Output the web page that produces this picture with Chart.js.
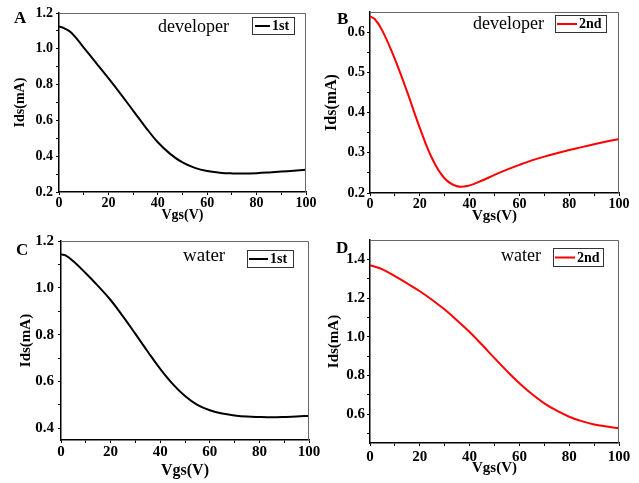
<!DOCTYPE html>
<html>
<head>
<meta charset="utf-8">
<script src="https://cdn.jsdelivr.net/npm/chart.js@4.4.0/dist/chart.umd.min.js"></script>
<style>
  body { margin: 0; background: #fff; }
  canvas { position: absolute; }
</style>
</head>
<body>
<canvas id="cA" width="320" height="225" style="left:0;top:0"></canvas>
<canvas id="cB" width="319" height="225" style="left:320px;top:0"></canvas>
<canvas id="cC" width="320" height="258" style="left:0;top:225px"></canvas>
<canvas id="cD" width="319" height="258" style="left:320px;top:225px"></canvas>
<script>
// Vgs sweep (V), shared by all four panels
const vgs = [0, 2, 5, 10, 15, 20, 25, 30, 35, 40, 45, 50, 55, 60, 65, 70, 75, 80, 85, 90, 95, 100];

// Ids (mA)
const idsDev1 = [1.125, 1.115, 1.09, 1.007, 0.922, 0.836, 0.747, 0.655, 0.563, 0.478, 0.413, 0.365, 0.335, 0.317, 0.308, 0.304, 0.303, 0.305, 0.309, 0.314, 0.319, 0.324];
const idsDev2 = [0.639, 0.632, 0.603, 0.533, 0.450, 0.362, 0.285, 0.236, 0.217, 0.219, 0.231, 0.245, 0.258, 0.270, 0.281, 0.2905, 0.299, 0.307, 0.314, 0.321, 0.328, 0.334];
const idsWat1 = [1.143, 1.138, 1.113, 1.062, 1.007, 0.948, 0.878, 0.803, 0.727, 0.654, 0.590, 0.538, 0.500, 0.477, 0.463, 0.455, 0.450, 0.448, 0.447, 0.448, 0.450, 0.454];
const idsWat2 = [1.369, 1.362, 1.348, 1.313, 1.275, 1.235, 1.190, 1.140, 1.084, 1.024, 0.958, 0.889, 0.822, 0.759, 0.703, 0.655, 0.617, 0.586, 0.563, 0.546, 0.535, 0.526];

// tick marks
const xMajor = [0, 20, 40, 60, 80, 100];
const xMinor = [10, 30, 50, 70, 90];
const yMajorA = [0.2, 0.4, 0.6, 0.8, 1.0, 1.2];
const yMinorA = [0.3, 0.5, 0.7, 0.9, 1.1];
const yMajorB = [0.2, 0.3, 0.4, 0.5, 0.6];
const yMinorB = [0.25, 0.35, 0.45, 0.55];
const yMajorC = [0.4, 0.6, 0.8, 1.0, 1.2];
const yMinorC = [0.5, 0.7, 0.9, 1.1];
const yMajorD = [0.6, 0.8, 1.0, 1.2, 1.4];
const yMinorD = [0.5, 0.7, 0.9, 1.1, 1.3];

const SERIF = '"Liberation Serif", "Times New Roman", serif';

// frame (top/right), panel letter, note text and inset legend
const decor = {
  id: 'decor',
  afterDraw(chart, args, o) {
    const ctx = chart.ctx;
    const a = chart.chartArea;
    ctx.save();
    ctx.strokeStyle = '#666';
    ctx.lineWidth = 1;
    ctx.beginPath();
    ctx.moveTo(a.left, a.top + 0.5);
    ctx.lineTo(a.right - 0.5, a.top + 0.5);
    ctx.lineTo(a.right - 0.5, a.bottom);
    ctx.stroke();

    ctx.fillStyle = '#000';
    ctx.textBaseline = 'alphabetic';
    ctx.textAlign = 'left';
    ctx.font = 'bold 17px ' + SERIF;
    ctx.fillText(o.letter, o.letterXY[0], o.letterXY[1]);

    ctx.font = o.noteFont + 'px ' + SERIF;
    ctx.fillText(o.note, o.noteXY[0], o.noteXY[1]);

    const [bx, by, bw, bh] = o.box;
    ctx.strokeStyle = '#333';
    ctx.lineWidth = 1;
    ctx.strokeRect(bx + 0.5, by + 0.5, bw, bh);
    const ds = chart.data.datasets[0];
    ctx.strokeStyle = ds.borderColor;
    ctx.lineWidth = 2;
    ctx.beginPath();
    ctx.moveTo(o.lineX[0], by + bh / 2 + 0.5);
    ctx.lineTo(o.lineX[1], by + bh / 2 + 0.5);
    ctx.stroke();
    ctx.font = 'bold 14px ' + SERIF;
    ctx.textBaseline = 'middle';
    ctx.fillText(ds.label, o.lineX[1] + 2, by + bh / 2 + 1);
    ctx.restore();
  }
};

function isMajor(list, v) {
  return list.some(m => Math.abs(m - v) < 1e-9);
}

function makePanel(p) {
  const ctx = document.getElementById(p.id).getContext('2d');
  return new Chart(ctx, {
    type: 'line',
    data: {
      datasets: [{
        label: p.label,
        data: vgs.map((x, i) => ({ x: x, y: p.ids[i] })),
        borderColor: p.color,
        borderWidth: 2,
        pointRadius: 0,
        tension: 0.4,
        fill: false
      }]
    },
    options: {
      responsive: false,
      animation: false,
      devicePixelRatio: 1,
      layout: { padding: p.pad },
      plugins: {
        legend: { display: false },
        tooltip: { enabled: false },
        decor: p.decor
      },
      scales: {
        x: {
          type: 'linear',
          min: 0,
          max: 100,
          afterBuildTicks: s => { s.ticks = xMajor.concat(xMinor).sort((a, b) => a - b).map(v => ({ value: v })); },
          afterFit: s => { s.height = p.xH; s.paddingLeft = 0; s.paddingRight = 0; },
          grid: { drawOnChartArea: false, drawTicks: true, tickLength: 3, color: '#000' },
          border: { display: true, color: '#000', width: 1.5 },
          ticks: {
            autoSkip: false,
            maxRotation: 0,
            padding: p.xTickPad,
            color: '#000',
            font: { family: SERIF, weight: 'bold', size: p.tickFont, lineHeight: 1 },
            callback: v => isMajor(xMajor, v) ? String(v) : ''
          },
          title: {
            display: true,
            text: 'Vgs(V)',
            color: '#000',
            padding: { top: 0, bottom: p.xTitlePad },
            font: { family: SERIF, weight: 'bold', size: p.xTitleFont, lineHeight: 1 }
          }
        },
        y: {
          min: p.yMin,
          max: p.yMax,
          afterBuildTicks: s => { s.ticks = p.yMajor.concat(p.yMinor).sort((a, b) => a - b).map(v => ({ value: v })); },
          afterFit: s => { s.width = p.yW; s.paddingTop = 0; s.paddingBottom = 0; },
          grid: { drawOnChartArea: false, drawTicks: true, tickLength: 3, color: '#000' },
          border: { display: true, color: '#000', width: 1.5 },
          ticks: {
            autoSkip: false,
            padding: p.yTickPad,
            color: '#000',
            font: { family: SERIF, weight: 'bold', size: p.tickFont, lineHeight: 1 },
            callback: v => isMajor(p.yMajor, v) ? v.toFixed(1) : ''
          },
          title: {
            display: true,
            text: 'Ids(mA)',
            color: '#000',
            padding: { top: p.yTitlePad, bottom: 0 },
            font: { family: SERIF, weight: 'bold', size: p.yTitleFont, lineHeight: 1 }
          }
        }
      }
    },
    plugins: [decor]
  });
}

makePanel({
  id: 'cA', label: '1st', color: '#000', ids: idsDev1,
  yMin: 0.2, yMax: 1.2, yMajor: yMajorA, yMinor: yMinorA,
  pad: { left: 0, top: 13, right: 14, bottom: 0 }, yW: 59, xH: 33,
  tickFont: 14, yTitleFont: 14, xTitleFont: 14,
  yTitlePad: 13, xTitlePad: 3, yTickPad: 3, xTickPad: 1,
  decor: { letter: 'A', letterXY: [14, 23], note: 'developer', noteFont: 18, noteXY: [158, 32],
           box: [252, 17, 42, 17], lineX: [255, 270] }
});

makePanel({
  id: 'cB', label: '2nd', color: '#ff0000', ids: idsDev2,
  yMin: 0.2, yMax: 0.65, yMajor: yMajorB, yMinor: yMinorB,
  pad: { left: 0, top: 12, right: 20, bottom: 0 }, yW: 50, xH: 32,
  tickFont: 14, yTitleFont: 16, xTitleFont: 15,
  yTitlePad: 4, xTitlePad: 1, yTickPad: 2, xTickPad: 1,
  decor: { letter: 'B', letterXY: [17, 24], note: 'developer', noteFont: 18, noteXY: [153, 29],
           box: [235, 15, 51, 17], lineX: [237, 257] }
});

makePanel({
  id: 'cC', label: '1st', color: '#000', ids: idsWat1,
  yMin: 0.35, yMax: 1.2, yMajor: yMajorC, yMinor: yMinorC,
  pad: { left: 0, top: 16, right: 11, bottom: 0 }, yW: 61, xH: 43,
  tickFont: 15, yTitleFont: 15, xTitleFont: 16,
  yTitlePad: 19, xTitlePad: 4, yTickPad: 4, xTickPad: 2,
  decor: { letter: 'C', letterXY: [16, 30], note: 'water', noteFont: 19, noteXY: [183, 36],
           box: [247, 25, 46, 17], lineX: [249, 268] }
});

makePanel({
  id: 'cD', label: '2nd', color: '#ff0000', ids: idsWat2,
  yMin: 0.45, yMax: 1.5, yMajor: yMajorD, yMinor: yMinorD,
  pad: { left: 0, top: 15, right: 20, bottom: 0 }, yW: 50, xH: 40,
  tickFont: 15, yTitleFont: 15, xTitleFont: 15,
  yTitlePad: 7, xTitlePad: 7, yTickPad: 2, xTickPad: 4,
  decor: { letter: 'D', letterXY: [16, 28], note: 'water', noteFont: 18, noteXY: [181, 36],
           box: [233, 23, 50, 18], lineX: [235, 255] }
});
</script>
</body>
</html>
